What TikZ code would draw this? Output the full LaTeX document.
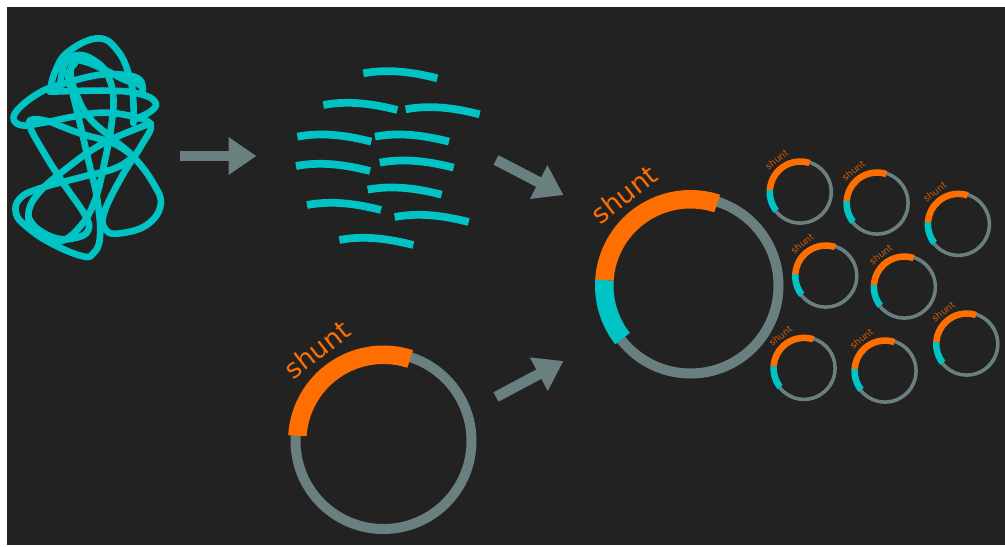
\documentclass[tikz,border=0pt]{standalone}
\usepackage{fontspec}
\setmainfont{DejaVu Sans}
\usetikzlibrary{arrows.meta}
\definecolor{panel}{HTML}{222222}
\definecolor{slate}{HTML}{6A7F80}
\definecolor{aqua}{HTML}{00C4C4}
\definecolor{amber}{HTML}{FF6E00}
\colorlet{amberdim}{amber!78!panel}
\tikzset{
  x=0.75pt,y=-0.75pt,
  flow/.style={draw=slate,line width=8pt,-{Triangle[length=21pt,width=27pt]}},
  thread/.style={draw=aqua,line width=5pt,line join=round,line cap=round},
  fragment/.style={draw=aqua,line width=5.8pt},
}
% plasmid ring: x, y, scale, insert flag, label size, label colour
\newcommand{\plasmid}[6]{%
  \begin{scope}[shift={(#1,#2)}]
    \pgfmathsetmacro{\Rgo}{93*0.75*#3}
    \pgfmathsetmacro{\Rgi}{83*0.75*#3}
    \pgfmathsetmacro{\Rao}{95.5*0.75*#3}
    \pgfmathsetmacro{\Rai}{77*0.75*#3}
    \pgfmathsetmacro{\Rlb}{113*0.75*#3}
    \fill[slate,even odd rule] (0,0) circle[radius=\Rgo pt] (0,0) circle[radius=\Rgi pt];
    \fill[amber] (176.5:\Rao pt) arc[start angle=176.5,end angle=72,radius=\Rao pt]
      -- (72:\Rai pt) arc[start angle=72,end angle=176.5,radius=\Rai pt] -- cycle;
    \ifnum#4=1
      \fill[aqua] (176.5:\Rao pt) arc[start angle=176.5,end angle=218,radius=\Rao pt]
        -- (218:\Rai pt) arc[start angle=218,end angle=176.5,radius=\Rai pt] -- cycle;
    \fi
    \node[text=#6,font=\fontsize{#5}{#5}\selectfont,rotate=38,inner sep=0pt] at (126:\Rlb pt) {shunt};
  \end{scope}}
% one sequencing read, placed by its left end
\newcommand{\frag}[2]{%
  \begin{scope}[shift={({#1/3+280},{#2/3+60})}]
    \draw[fragment] (0,0) .. controls (24.7,-4.7) and (49.3,-1.3) .. (74,5);
  \end{scope}}
\begin{document}
\begin{tikzpicture}
  \useasboundingbox (0,0) rectangle (1005,546);
  \fill[white] (0,0) rectangle (1005,546);
  \fill[panel] (7,7) rectangle (1005,545);

  % tangled genome
  \begin{scope}[shift={(0,20)},x=0.25pt,y=-0.25pt]
    \draw[thread] plot[smooth,tension=0.7] coordinates {(400,300)(455,272)(465,245)(420,222)(330,212)(150,215)};
    \draw[thread] plot[smooth,tension=0.7] coordinates {(150,215)(165,155)(205,95)(295,55)(355,95)(390,175)(400,245)(400,310)};
    \draw[thread] plot[smooth,tension=0.7] coordinates {(428,212)(420,180)(375,165)(295,165)(195,190)(115,220)(45,280)(60,315)(130,308)(220,290)(310,278)(400,290)(452,315)(425,375)(365,470)(312,580)(318,630)(360,640)(440,615)(482,555)(460,490)(400,410)(330,350)(265,290)(228,220)(212,165)(222,125)(255,125)(315,150)(375,180)(420,195)(428,212)};
    \draw[thread] plot[smooth,tension=0.7] coordinates {(180,205)(195,130)(240,105)(295,130)(325,170)(340,230)(335,310)(315,420)(285,540)(240,620)(175,665)(110,635)(85,585)(115,520)(200,445)(310,370)(452,310)};
    \draw[thread] plot[smooth,tension=0.7] coordinates {(225,130)(205,165)(218,220)(235,290)(265,420)(292,540)(300,650)(280,700)(245,708)(150,668)(80,620)(48,580)(60,535)(120,505)(250,470)(345,445)(400,410)};
    \draw[thread] plot[smooth,tension=0.7] coordinates {(150,305)(100,298)(90,320)(130,395)(190,490)(255,585)(265,630)(230,653)(170,655)(110,625)(85,590)};
    \draw[thread] plot[smooth,tension=0.7] coordinates {(150,305)(240,340)(340,370)(400,410)};
  \end{scope}

  % sequencing reads
  \frag{250}{40}\frag{130}{135}\frag{377}{148}
  \frag{52}{230}\frag{285}{230}\frag{48}{318}\frag{299}{308}
  \frag{263}{389}\frag{81}{435}\frag{344}{471}\frag{178}{540}

  % flow arrows
  \coordinate (a1s) at (179.5,156); \coordinate (a1e) at (256.5,156);
  \coordinate (a2s) at (496,160); \coordinate (a2e) at (563.5,195);
  \coordinate (a3s) at (496,397); \coordinate (a3e) at (563.5,361);
  \draw[flow] (a1s) -- (a1e);
  \draw[flow] (a2s) -- (a2e);
  \draw[flow] (a3s) -- (a3e);

  % plasmids
  \plasmid{383.5}{441}{1}{0}{20}{amber}
  \plasmid{690.5}{285.5}{1}{1}{20}{amber}
  \plasmid{800.2}{192}{0.353}{1}{7}{amberdim}
  \plasmid{877}{203}{0.353}{1}{7}{amberdim}
  \plasmid{958.3}{224.3}{0.353}{1}{7}{amberdim}
  \plasmid{825.7}{276}{0.353}{1}{7}{amberdim}
  \plasmid{904.3}{287}{0.353}{1}{7}{amberdim}
  \plasmid{966.7}{344}{0.353}{1}{7}{amberdim}
  \plasmid{804}{368.3}{0.353}{1}{7}{amberdim}
  \plasmid{885}{371}{0.353}{1}{7}{amberdim}
\end{tikzpicture}
\end{document}
